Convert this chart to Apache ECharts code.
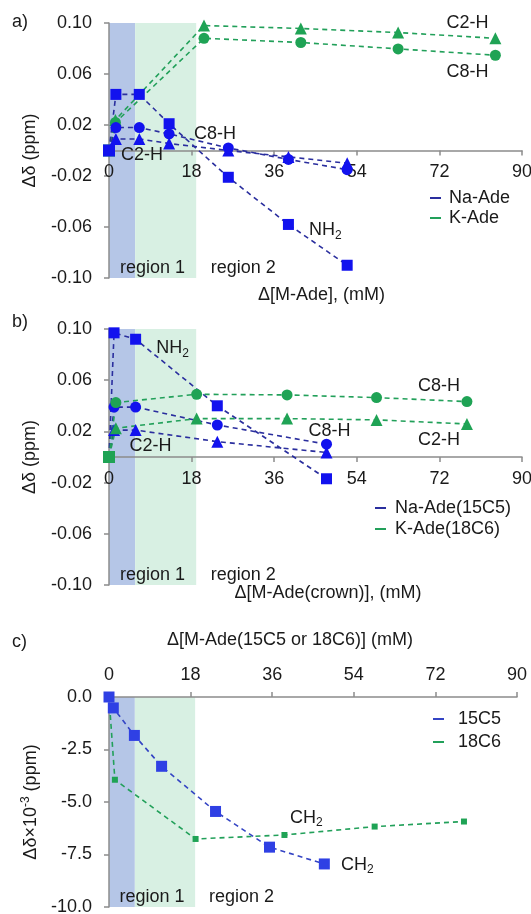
<!DOCTYPE html>
<html>
<head>
<meta charset="utf-8">
<script src="https://cdn.jsdelivr.net/npm/echarts@6/dist/echarts.min.js"></script>
<style>
  html, body { margin: 0; padding: 0; background: #fff; }
  #chart { width: 531px; height: 914px; }
</style>
</head>
<body>
<div id="chart"></div>
<script>
// ---- data ----
const regionBounds = [0, 5.7, 19];
const regionLabelSpans = [[0, 19], [20, 38.5]];
const regionNames = ['region 1', 'region 2'];
const abYTicks = [-0.10, -0.06, -0.02, 0.02, 0.06, 0.10];

// a) M-Ade
const aNaX = [0, 1.5, 6.6, 13.1, 26, 39.1, 51.9];
const aNaNH2 = [0, 0.044, 0.044, 0.021, -0.021, -0.058, -0.090];
const aNaC8 = [0, 0.018, 0.018, 0.013, 0.002, -0.007, -0.015];
const aNaC2 = [0, 0.009, 0.009, 0.0055, 0.0, -0.005, -0.010];
const aKX = [0, 1.4, 20.7, 41.8, 63, 84.2];
const aKC2 = [0, 0.024, 0.098, 0.0957, 0.0925, 0.088];
const aKC8 = [0, 0.022, 0.088, 0.0847, 0.0797, 0.0747];

// b) M-Ade(crown)
const bNaX = [0, 1.1, 5.8, 23.6, 47.4];
const bNaNH2 = [0, 0.097, 0.092, 0.040, -0.017];
const bNaC8 = [0, 0.039, 0.039, 0.025, 0.010];
const bNaC2 = [0, 0.021, 0.021, 0.012, 0.0035];
const bKX = [0, 1.5, 19.1, 38.8, 58.3, 78];
const bKC8 = [0, 0.0425, 0.049, 0.0485, 0.0464, 0.0433];
const bKC2 = [0, 0.0225, 0.030, 0.030, 0.029, 0.0258];

// c) crown CH2
const c15X = [0, 0.95, 5.6, 11.6, 23.5, 35.4, 47.5];
const c15CH2 = [0, -0.52, -1.83, -3.3, -5.45, -7.15, -7.95];
const c18X = [0, 1.3, 19.1, 38.7, 58.6, 78.3];
const c18CH2 = [0, -3.94, -6.76, -6.57, -6.17, -5.93];

// ---- styles ----
const font = 'Liberation Sans, Arial, sans-serif';
const txt = '#1a1a1a';
const axisGray = '#8c8c8c';
const blue = '#1212ee';
const navy = '#2a2e9e';
const green = '#1fa355';
const greenLine = '#22a05a';
const cBlue = '#2f40e4';
const cNavy = '#3444c4';
const shadeBlue = '#b5c6e7';
const shadeGreen = '#d8f0e3';

const grids = [
  { left: 109, top: 23, width: 413, height: 255 },
  { left: 109, top: 329, width: 413, height: 256 },
  { left: 109, top: 697, width: 408, height: 210 }
];
const abYMin = -0.10, abYMax = 0.10;

const rich = {
  n: { fontSize: 18, fontFamily: font, color: txt },
  s: { fontSize: 12, fontFamily: font, color: txt, padding: [10, 0, 0, 0] }
};

function pts(xs, ys, firstRect, notes) {
  return xs.map((x, i) => {
    const item = { value: [x, ys[i]] };
    if (firstRect && i === 0) item.symbol = 'rect';
    const n = (notes || []).find(d => d.i === i);
    if (n) {
      item.label = {
        show: true, position: 'inside', offset: [n.dx, n.dy],
        formatter: n.text, fontSize: 18, fontFamily: font, color: txt, rich: rich
      };
    }
    return item;
  });
}

function line(name, grid, xs, ys, symbol, size, mColor, lColor, firstRect, notes) {
  return {
    type: 'line', name: name, xAxisIndex: grid, yAxisIndex: grid, z: 4,
    data: pts(xs, ys, firstRect, notes),
    symbol: symbol, symbolSize: size, showAllSymbol: true,
    itemStyle: { color: mColor },
    lineStyle: { color: lColor, width: 1.6, type: [5, 4] },
    label: { show: false },
    emphasis: { disabled: true }
  };
}

function regions(grid) {
  return {
    type: 'line', xAxisIndex: grid, yAxisIndex: grid, data: [], z: 1,
    markArea: {
      silent: true, z: 1,
      data: [
        [{ xAxis: regionBounds[0], itemStyle: { color: shadeBlue } }, { xAxis: regionBounds[1] }],
        [{ xAxis: regionBounds[1], itemStyle: { color: shadeGreen } }, { xAxis: regionBounds[2] }]
      ].concat(regionLabelSpans.map((s, k) => [
        { xAxis: s[0], name: regionNames[k], itemStyle: { color: 'rgba(0,0,0,0)' },
          label: { show: true, position: 'insideBottom', distance: 1, fontSize: 18, fontFamily: font, color: txt } },
        { xAxis: s[1] }
      ]))
    }
  };
}

// x axis of a) and b) sits on y = 0: shift it up from the grid bottom by zero's share of the height
function xAxisAB(idx, name, gap, pad) {
  const zeroOffset = -grids[idx].height * (0 - abYMin) / (abYMax - abYMin);
  return {
    gridIndex: idx, type: 'value', min: 0, max: 90, interval: 18, z: 3,
    position: 'bottom', offset: zeroOffset,
    axisLine: { show: true, onZero: false, lineStyle: { color: axisGray, width: 1.5 } },
    axisTick: { show: true, inside: false, length: 5, lineStyle: { color: axisGray, width: 1.5 } },
    axisLabel: { color: txt, fontSize: 18, fontFamily: font, margin: 13 },
    splitLine: { show: false },
    name: name, nameLocation: 'middle', nameGap: gap,
    nameTextStyle: { color: txt, fontSize: 18, fontFamily: font, padding: pad }
  };
}

function yAxisAB(idx) {
  return {
    gridIndex: idx, type: 'value', min: abYMin, max: abYMax, z: 3,
    axisLine: { show: true, lineStyle: { color: axisGray, width: 1.5 } },
    axisTick: { show: true, length: 5, customValues: abYTicks, lineStyle: { color: axisGray, width: 1.5 } },
    axisLabel: { color: txt, fontSize: 18, fontFamily: font, margin: 17, customValues: abYTicks,
      formatter: v => v.toFixed(2) },
    splitLine: { show: false },
    name: 'Δδ (ppm)', nameLocation: 'middle', nameGap: 70, nameRotate: 90,
    nameTextStyle: { color: txt, fontSize: 18, fontFamily: font }
  };
}

function legend(names, colors, left, top, gap, textPad) {
  return {
    orient: 'vertical', left: left, top: top, itemGap: gap, padding: 0,
    icon: 'rect', itemWidth: 11, itemHeight: 2, selectedMode: false,
    data: names.map((n, i) => ({ name: n, itemStyle: { color: colors[i] } })),
    textStyle: { color: txt, fontSize: 18, fontFamily: font, padding: [0, 0, 0, textPad] }
  };
}

const aNotes = {
  NH2: [{ i: 5, text: '{n|NH}{s|2}', dx: 37, dy: 6 }],
  C8: [{ i: 3, text: 'C8-H', dx: 46, dy: 0 }],
  C2: [{ i: 1, text: 'C2-H', dx: 26, dy: 16 }],
  KC2: [{ i: 5, text: 'C2-H', dx: -28, dy: -15 }],
  KC8: [{ i: 5, text: 'C8-H', dx: -28, dy: 17 }]
};
const bNotes = {
  NH2: [{ i: 2, text: '{n|NH}{s|2}', dx: 37, dy: 9 }],
  C8: [{ i: 4, text: 'C8-H', dx: 3, dy: -13 }],
  C2: [{ i: 2, text: 'C2-H', dx: 15, dy: 16 }],
  KC8: [{ i: 5, text: 'C8-H', dx: -28, dy: -16 }],
  KC2: [{ i: 5, text: 'C2-H', dx: -28, dy: 16 }]
};
const cNotes = {
  c18: [{ i: 3, text: '{n|CH}{s|2}', dx: 22, dy: -17 }],
  c15: [{ i: 6, text: '{n|CH}{s|2}', dx: 33, dy: 1 }]
};

const chart = echarts.init(document.getElementById('chart'), null, { renderer: 'canvas' });
chart.setOption({
  animation: false,
  backgroundColor: '#fff',
  title: [
    { text: 'a)', left: 12, top: 13 },
    { text: 'b)', left: 12, top: 313 },
    { text: 'c)', left: 12, top: 633 }
  ].map(t => Object.assign(t, { padding: 0, textStyle: { color: txt, fontSize: 18, fontWeight: 'normal', fontFamily: font } })),
  grid: grids.map(g => Object.assign({ outerBoundsMode: 'none' }, g)),
  legend: [
    legend(['Na-Ade', 'K-Ade'], [navy, greenLine], 430, 189, 2, 3),
    legend(['Na-Ade(15C5)', 'K-Ade(18C6)'], [navy, greenLine], 375, 499, 3, 4),
    legend(['15C5', '18C6'], [cNavy, greenLine], 433, 710, 5, 9)
  ],
  xAxis: [
    xAxisAB(0, 'Δ[M-Ade], (mM)', 136, [0, 0, 0, 12]),
    xAxisAB(1, 'Δ[M-Ade(crown)], (mM)', 127, [0, 0, 0, 25]),
    {
      gridIndex: 2, type: 'value', min: 0, max: 90, interval: 18, position: 'top', z: 3,
      axisLine: { show: true, onZero: false, lineStyle: { color: axisGray, width: 1.5 } },
      axisTick: { show: true, length: 5, lineStyle: { color: axisGray, width: 1.5 } },
      axisLabel: { color: txt, fontSize: 18, fontFamily: font, margin: 13 },
      splitLine: { show: false },
      name: 'Δ[M-Ade(15C5 or 18C6)] (mM)', nameLocation: 'middle', nameGap: 48,
      nameTextStyle: { color: txt, fontSize: 18, fontFamily: font, padding: [0, 46, 0, 0] }
    }
  ],
  yAxis: [
    yAxisAB(0),
    yAxisAB(1),
    {
      gridIndex: 2, type: 'value', min: -10, max: 0, interval: 2.5, z: 3,
      axisLine: { show: true, lineStyle: { color: axisGray, width: 1.5 } },
      axisTick: { show: true, length: 5, lineStyle: { color: axisGray, width: 1.5 } },
      axisLabel: { color: txt, fontSize: 18, fontFamily: font, margin: 17, formatter: v => v.toFixed(1) },
      splitLine: { show: false },
      name: '{n|Δδ×10}{p|-3}{n| (ppm)}', nameLocation: 'middle', nameGap: 63, nameRotate: 90,
      nameTextStyle: {
        color: txt, fontSize: 18, fontFamily: font,
        rich: {
          n: { fontSize: 18, fontFamily: font, color: txt },
          p: { fontSize: 12, fontFamily: font, color: txt, padding: [0, 0, 10, 0] }
        }
      }
    }
  ],
  series: [
    regions(0), regions(1), regions(2),
    // a)
    line('K-Ade', 0, aKX, aKC2, 'triangle', 12, green, greenLine, true, aNotes.KC2),
    line('K-Ade', 0, aKX, aKC8, 'circle', 11, green, greenLine, true, aNotes.KC8),
    line('Na-Ade', 0, aNaX, aNaC2, 'triangle', 12, blue, navy, true, aNotes.C2),
    line('Na-Ade', 0, aNaX, aNaC8, 'circle', 11, blue, navy, true, aNotes.C8),
    line('Na-Ade', 0, aNaX, aNaNH2, 'rect', 11, blue, navy, true, aNotes.NH2),
    // b)
    line('Na-Ade(15C5)', 1, bNaX, bNaC2, 'triangle', 12, blue, navy, true, bNotes.C2),
    line('Na-Ade(15C5)', 1, bNaX, bNaC8, 'circle', 11, blue, navy, true, bNotes.C8),
    line('Na-Ade(15C5)', 1, bNaX, bNaNH2, 'rect', 11, blue, navy, true, bNotes.NH2),
    line('K-Ade(18C6)', 1, bKX, bKC2, 'triangle', 12, green, greenLine, true, bNotes.KC2),
    line('K-Ade(18C6)', 1, bKX, bKC8, 'circle', 11, green, greenLine, true, bNotes.KC8),
    // c)
    line('18C6', 2, c18X, c18CH2, 'rect', 6, green, greenLine, false, cNotes.c18),
    line('15C5', 2, c15X, c15CH2, 'rect', 11, cBlue, cNavy, false, cNotes.c15)
  ]
});
</script>
</body>
</html>
